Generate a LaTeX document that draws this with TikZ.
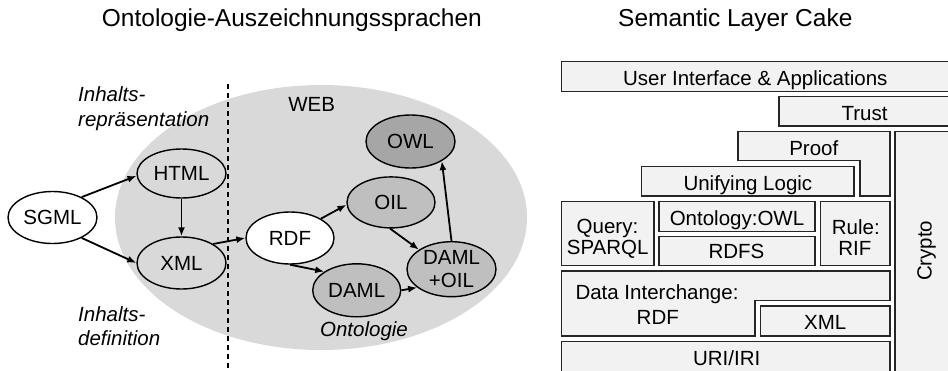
\documentclass[tikz,border=0pt]{standalone}
\usepackage{fontspec}
\setmainfont{Liberation Sans}
\usetikzlibrary{arrows.meta,shapes.geometric}
\definecolor{bgell}{HTML}{D9D9D9}
\definecolor{midg}{HTML}{BFBFBF}
\definecolor{darkg}{HTML}{A6A6A6}
\definecolor{boxg}{HTML}{F2F2F2}
\definecolor{edgec}{HTML}{262626}
\begin{document}
\begin{tikzpicture}[x=1pt,y=-1pt,
  ell/.style={ellipse, draw=black, line width=1.4pt, minimum width=89pt, minimum height=52pt, inner sep=0pt, font=\fontsize{20.5}{23.3}\selectfont, align=center},
  arr/.style={line width=1.8pt, -{Latex[length=9pt,width=7pt]}},
  lbl/.style={font=\fontsize{20.5}{23}\selectfont, inner sep=0pt},
  ilbl/.style={font=\fontsize{20.5}{23}\selectfont\itshape, inner sep=0pt, anchor=base west},
  ttl/.style={font=\fontsize{24.5}{29}\selectfont, inner sep=0pt, anchor=base west},
  cake/.style={fill=boxg, draw=edgec, line width=1.4pt},
  ctxt/.style={lbl, anchor=base}]
\useasboundingbox (0,0) rectangle (948,370);
\clip (0,0) rectangle (948,370);

% titles
\node[ttl] (t1) at (101.7,26.7) {Ontologie-Auszeichnungssprachen};
\node[ttl] (t2) at (618,26) {Semantic Layer Cake};

% ---------------- left diagram ----------------
\fill[bgell] (321,217.5) ellipse [x radius=206, y radius=132.5];
\coordinate (dtop) at (228,84);
\coordinate (dbot) at (228,368);
\draw[line width=1.4pt, dash pattern=on 5pt off 4pt] (dtop) -- (dbot);

\node[ilbl] (ir1) at (78,101.7) {Inhalts-};
\node[ilbl] (ir2) at (78,126.7) {repräsentation};
\node[ilbl] (id1) at (78,321.7) {Inhalts-};
\node[ilbl] (id2) at (78,345) {definition};
\node[ctxt] (web) at (311.7,111.7) {WEB};
\node[lbl, anchor=base, font=\fontsize{20.5}{23}\selectfont\itshape] (onto) at (364,336.7) {Ontologie};

\node[ell, fill=white] (sgml) at (52.5,217.5) {SGML};
\node[ell, fill=bgell, minimum height=49pt] (html) at (181.5,173.5) {HTML};
\node[ell, fill=bgell] (xml) at (181.5,263) {XML};
\node[ell, fill=white, minimum width=88pt] (rdf) at (290,238) {RDF};
\node[ell, fill=midg, minimum width=88pt, minimum height=51pt] (oil) at (391,202.4) {OIL};
\node[ell, fill=darkg, minimum height=53pt] (owl) at (410.5,141.5) {OWL};
\node[ell, fill=midg, minimum width=88pt, minimum height=53pt] (daml) at (356.7,290.3) {DAML};
\node[ell, fill=midg, minimum height=55pt] (damloil) at (451.5,269.2) {DAML\\+OIL};

\draw[arr] (sgml.35) -- (html.183);
\draw[arr] (sgml.-35) -- (xml.180);
\draw[arr] (html.south) -- (xml.north);
\draw[arr] (xml.31) -- (rdf.180);
\draw[arr] (rdf.32) -- (oil.183);
\draw[arr] (rdf.south) -- (daml.150);
\draw[arr] (oil.268) -- (damloil.149);
\draw[arr] (daml.east) -- (damloil.208);
\draw[arr] (damloil.north) -- (owl.-32);

% ---------------- layer cake ----------------
\draw[cake] (561.7,61.7) rectangle (960,91.7);
\draw[cake] (779,96.7) rectangle (960,126);
\draw[cake] (738,131.7) -- (890,131.7) -- (890,196) -- (860,196) -- (860,160.7) -- (738,160.7) -- cycle;
\draw[cake] (895,131.7) rectangle (960,380);
\draw[cake] (641.7,166.7) rectangle (854,196);
\draw[cake] (561.7,201.7) rectangle (654,265.7);
\draw[cake] (659,201.7) rectangle (815,231.7);
\draw[cake] (659,236.7) rectangle (815,265.7);
\draw[cake] (820.7,201.7) rectangle (890,265.7);
\draw[cake] (561.7,271) -- (890,271) -- (890,300.5) -- (755,300.5) -- (755,336) -- (561.7,336) -- cycle;
\draw[cake] (760.7,306) rectangle (890,336);
\draw[cake] (561.7,341.7) rectangle (890,380);

\node[ctxt] (ui) at (755.3,85) {User Interface \& Applications};
\node[ctxt] (trust) at (864.5,120) {Trust};
\node[ctxt] (proof) at (813.8,155) {Proof};
\node[ctxt] (ulogic) at (747.9,190) {Unifying Logic};
\node[ctxt] (q1) at (607.5,233.5) {Query:};
\node[ctxt] (q2) at (607.7,254.8) {SPARQL};
\node[ctxt] (owlc) at (737,225) {Ontology:OWL};
\node[ctxt] (rdfs) at (736.5,258) {RDFS};
\node[ctxt] (r1) at (855.8,234.5) {Rule:};
\node[ctxt] (r2) at (854.8,255.3) {RIF};
\node[ctxt] (di1) at (657,299) {Data Interchange:};
\node[ctxt] (di2) at (657.8,324) {RDF};
\node[ctxt] (xmlc) at (825.3,329.3) {XML};
\node[ctxt] (uri) at (726.7,365) {URI/IRI};
\node[ctxt, rotate=90] (crypto) at (931.7,250.8) {Crypto};
\end{tikzpicture}
\end{document}
